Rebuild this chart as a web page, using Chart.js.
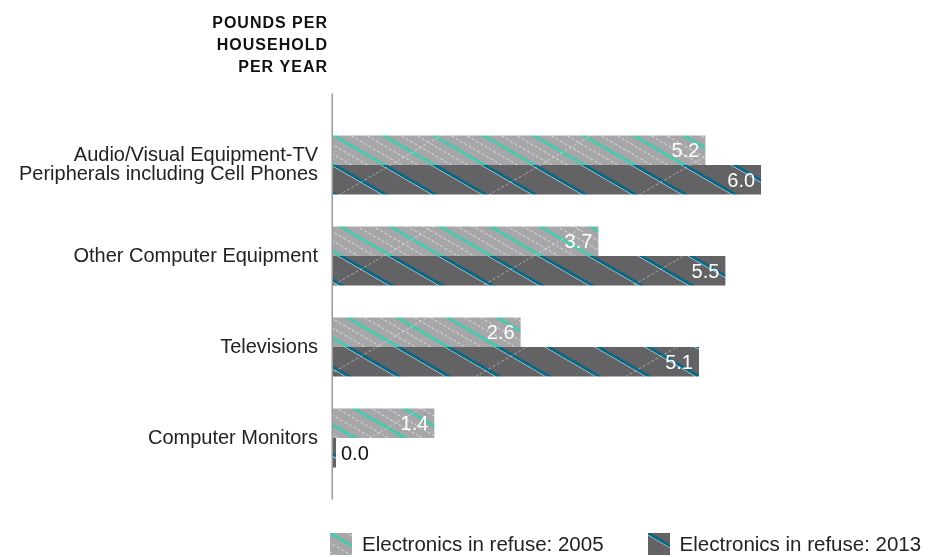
<!DOCTYPE html>
<html><head><meta charset="utf-8">
<script src="https://cdn.jsdelivr.net/npm/chart.js@4/dist/chart.umd.min.js"></script>
<style>
html,body{margin:0;padding:0;background:#fff;}
#wrap{position:relative;width:928px;height:557px;overflow:hidden;}
#legend{position:absolute;left:330px;top:533px;display:flex;white-space:nowrap;font-family:"Liberation Sans",Arial,sans-serif;font-size:20.5px;color:#222;line-height:22px;}
.item{display:flex;align-items:center;margin-right:44px;white-space:nowrap;}
.item canvas{margin-right:10px;display:block;}
</style></head><body>
<div id="wrap"><canvas id="c" width="928" height="557" style="width:928px;height:557px"></canvas><div id="legend"></div></div>
<script>
const categories = [["Audio/Visual Equipment-TV","Peripherals including Cell Phones"],"Other Computer Equipment","Televisions","Computer Monitors"];
const seriesNames = ["Electronics in refuse: 2005","Electronics in refuse: 2013"];
const values2005 = [5.22, 3.72, 2.63, 1.42];
const values2013 = [6.0, 5.5, 5.13, 0.0];
const titleLines = ["POUNDS PER","HOUSEHOLD","PER YEAR"];
const FONT = '"Liberation Sans", Arial, Helvetica, sans-serif';

function makePattern(kind){
  const W=150, H=87, s=H/W;
  const c=document.createElement('canvas'); c.width=W; c.height=H;
  const g=c.getContext('2d');
  g.fillStyle = kind===0 ? '#a7a7aa' : '#636366';
  g.fillRect(0,0,W,H);
  function desc(x0,color,w,dash){g.beginPath();g.strokeStyle=color;g.lineWidth=w;g.setLineDash(dash||[]);g.moveTo(x0-400,-400*s);g.lineTo(x0+400,400*s);g.stroke();}
  function asc(x0,color,w,dash){g.beginPath();g.strokeStyle=color;g.lineWidth=w;g.setLineDash(dash||[]);g.moveTo(x0-400,400*s);g.lineTo(x0+400,-400*s);g.stroke();}
  for(let k=-8;k<=8;k++){
    const x=k*50;
    if(kind===0){
      desc(x+17,'rgba(255,255,255,0.75)',0.8,[3,2]);
      desc(x+33,'rgba(255,255,255,0.75)',0.8,[3,2]);
      desc(x,'#4ec7af',3.2);
    } else {
      desc(x-3.2,'rgba(255,255,255,0.9)',1);
      desc(x,'#0b6884',3);
    }
  }
  for(let k=-4;k<=4;k++){
    asc(k*150+75,'rgba(255,255,255,0.55)',0.8,[3,2]);
  }
  return c;
}
const tile0 = makePattern(0), tile1 = makePattern(1);
const canvas = document.getElementById('c');
const ctx = canvas.getContext('2d');
const pat0 = ctx.createPattern(tile0,'repeat');
const pat1 = ctx.createPattern(tile1,'repeat');

// legend
const legend = document.getElementById('legend');
[tile0,tile1].forEach((t,i)=>{
  const it=document.createElement('div'); it.className='item';
  const sw=document.createElement('canvas'); sw.width=22; sw.height=22;
  const sg=sw.getContext('2d'); sg.fillStyle=sg.createPattern(t,'repeat'); sg.fillRect(0,0,22,22);
  const tx=document.createElement('span'); tx.textContent=seriesNames[i];
  it.appendChild(sw); it.appendChild(tx); legend.appendChild(it);
});

const axisLine = { id:'axisLine', beforeDatasetsDraw(chart){
  const a=chart.chartArea, c=chart.ctx, x=chart.scales.x.getPixelForValue(0)-0.75;
  c.save(); c.strokeStyle='#9a9a9a'; c.lineWidth=1.5;
  c.beginPath(); c.moveTo(x,a.top-26); c.lineTo(x,a.bottom+16); c.stroke(); c.restore();
}};
const valueLabels = { id:'valueLabels', afterDatasetsDraw(chart){
  const c=chart.ctx; c.save();
  c.font='20px '+FONT; c.textBaseline='middle';
  chart.data.datasets.forEach((ds,i)=>{
    chart.getDatasetMeta(i).data.forEach((bar,j)=>{
      const v=ds.data[j], t=v.toFixed(1);
      if(v>0.3){ c.fillStyle='#fff'; c.textAlign='right'; c.fillText(t,bar.x-6,bar.y+1.5); }
      else { c.fillStyle='#111'; c.textAlign='left'; c.fillText(t,bar.x+5,bar.y+1.5); }
    });
  });
  c.restore();
}};
const titlePlugin = { id:'sideTitle', afterDraw(chart){
  const c=chart.ctx, a=chart.chartArea; c.save();
  c.font='bold 16px '+FONT; c.fillStyle='#111'; c.textAlign='right'; c.textBaseline='middle';
  try{ c.letterSpacing='1px'; }catch(e){}
  titleLines.forEach((l,i)=>c.fillText(l, a.left-5, a.top-96+i*22));
  c.restore();
}};

new Chart(canvas,{
  type:'bar',
  data:{ labels:categories, datasets:[
    {label:seriesNames[0], data:values2005, backgroundColor:pat0, borderWidth:0},
    {label:seriesNames[1], data:values2013, backgroundColor:pat1, borderWidth:0, minBarLength:3}
  ]},
  options:{
    indexAxis:'y', responsive:false, animation:false, devicePixelRatio:1,
    events:[],
    categoryPercentage:0.65, barPercentage:1.0,
    layout:{padding:{top:119.5,bottom:73.5,left:0,right:0}},
    plugins:{legend:{display:false}, tooltip:{enabled:false}, title:{display:false}},
    scales:{
      x:{display:false, min:0, max:8.34},
      y:{ grid:{display:false,drawTicks:false}, border:{display:false},
          ticks:{font:{family:FONT,size:20,lineHeight:0.95}, color:'#222', padding:15},
          afterFit(s){ s.width=333; } }
    }
  },
  plugins:[axisLine,valueLabels,titlePlugin]
});
</script>
</body></html>
